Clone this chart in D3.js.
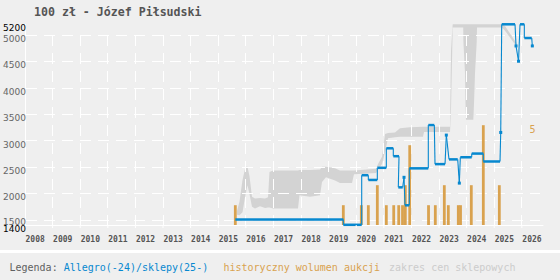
<!DOCTYPE html>
<html><head><meta charset="utf-8">
<script src="https://cdn.jsdelivr.net/npm/d3@7"></script>
<style>
html,body{margin:0;padding:0;background:#efefef;}
svg{display:block;}
</style></head>
<body>
<svg id="chart" width="560" height="280"></svg>
<script>
// ---- data ----
const years = [2008,2009,2010,2011,2012,2013,2014,2015,2016,2017,2018,2019,2020,2021,2022,2023,2024,2025,2026];
const priceTicks = [1400,1500,2000,2500,3000,3500,4000,4500,5000,5200];
const gridValues = [1500,2000,2500,3000,3500,4000,4500,5000];

// shop price range (zakres cen sklepowych)
const bandYear = [2015.699,2015.790,2015.899,2016.007,2016.080,2016.152,2016.243,2016.351,2016.533,2016.714,2016.822,2016.877,2017.004,2017.909,2017.964,2018.344,2018.707,2018.779,2018.924,2019.250,2019.431,2019.866,2019.938,2020.736,2020.808,2020.953,2021.062,2021.170,2021.424,2021.605,2021.967,2022.438,2022.475,2023.417,2023.453,2023.514,2023.895,2023.902,2023.960,2023.978,2023.996,2024.261,2024.286,2024.322,2024.384,2024.395,2025.301,2025.409,2025.826];
const bandLow  = [1590,1580,1640,1980,2150,1980,1740,1710,1750,1720,1730,1730,1710,1710,1960,1930,1960,2210,2300,2240,2190,2190,2360,2380,2450,2550,2780,3040,3060,3070,3070,3070,3160,3160,3600,5140,5140,4870,4270,3700,3390,3390,3700,4270,4870,5140,5140,5080,4780];
const bandHigh = [1660,1840,2250,2500,2500,2320,1930,1900,1910,1900,1920,2400,2430,2430,2440,2440,2450,2500,2500,2470,2430,2430,2430,2460,2550,2690,3120,3140,3150,3230,3250,3260,3260,3260,4700,5200,5200,5200,5200,5200,5200,5200,5200,5200,5200,5200,5200,5170,4840];

// historical auction volume (historyczny wolumen aukcji)
const barYear  = [2015.638,2019.551,2020.203,2020.457,2020.783,2021.109,2021.377,2021.558,2021.696,2021.797,2021.957,2022.638,2022.884,2023.210,2023.355,2023.717,2023.797,2024.188,2024.623,2025.203];
const barCount = [1,1,1,1,2,1,1,1,1,2,4,1,1,2,1,1,1,2,5,2];
const barMax = 5;

// Allegro(-24)/sklepy(25-) price periods
const allegroStart = [2015.638,2019.551,2020.217,2020.457,2020.783,2021.109,2021.362,2021.543,2021.750,2021.786,2021.942,2022.630,2022.873,2023.283,2023.380,2023.754,2023.790,2024.203,2024.623,2025.254,2025.290,2025.808,2025.899,2025.953,2026.109,2026.399];
const allegroEnd   = [2019.551,2020.217,2020.457,2020.783,2021.109,2021.362,2021.569,2021.703,2021.750,2021.942,2022.630,2022.848,2023.236,2023.283,2023.696,2023.754,2024.203,2024.623,2025.228,2025.254,2025.772,2025.808,2025.899,2026.109,2026.377,2026.399];
const allegroValue = [1500,1400,2340,2250,2480,2850,2700,2110,2300,1770,2470,3290,2550,3100,2640,2190,2680,2750,2600,3150,5200,4790,4500,5200,4940,4790];

// ---- drawing ----
const BLUE = "#0788cf", ORANGE = "#d9a24f", BAND = "#d3d3d3", GRID = "#ffffff";
const svg = d3.select("#chart");
svg.append("rect").attr("width",560).attr("height",280).attr("fill","#efefef");

const x = d3.scaleLinear().domain([2008, 2026.8]).range([24.5, 543.4]);
const y = d3.scaleLinear().domain([1400, 5200]).range([224.8, 24.3]);
const yb = d3.scaleLinear().domain([0, barMax]).range([225.2, 125.2]);

// band
const bandData = bandYear.map((d,i)=>({year:d, low:bandLow[i], high:bandHigh[i]}));
svg.append("path").datum(bandData)
  .attr("fill", BAND)
  .attr("d", d3.area().x(d=>x(d.year)).y0(d=>y(d.low)).y1(d=>y(d.high)));

// grid
const grid = svg.append("g");
grid.selectAll("line.h").data(gridValues).join("line")
  .attr("x1", 26).attr("x2", 540)
  .attr("y1", d=>Math.round(y(d))+0.5).attr("y2", d=>Math.round(y(d))+0.5)
  .attr("stroke", GRID).attr("stroke-width",1).attr("stroke-dasharray","11,7");
grid.selectAll("line.v").data(years.slice(1)).join("line")
  .attr("x1", d=>Math.round(x(d))+0.5).attr("x2", d=>Math.round(x(d))+0.5)
  .attr("y1", Math.round(y(5000))).attr("y2", 225)
  .attr("stroke", GRID).attr("stroke-width",1).attr("stroke-dasharray","11,7");

// bars
const barData = barYear.map((d,i)=>({year:d, n:barCount[i]}));
svg.append("g").selectAll("rect").data(barData).join("rect")
  .attr("x", d=>x(d.year)-1.4).attr("width", 2.8)
  .attr("y", d=>yb(d.n)).attr("height", d=>yb(0)-yb(d.n))
  .attr("fill", ORANGE);

// axes lines
svg.append("line").attr("x1",24.5).attr("x2",543.4).attr("y1",225.5).attr("y2",225.5)
  .attr("stroke",GRID).attr("stroke-width",1.2);
svg.append("line").attr("x1",25.5).attr("x2",25.5).attr("y1",24).attr("y2",225.5)
  .attr("stroke",GRID).attr("stroke-width",1);

// Allegro line
const al = allegroStart.map((d,i)=>({s:d, e:allegroEnd[i], v:allegroValue[i]}));
const conn = [];
for (let i=0;i<al.length-1;i++){
  const a = al[i], b = al[i+1];
  const xa = a.s===a.e ? x(a.s) : x(a.e);
  const xb = x(b.s);
  conn.push([[xa, y(a.v)],[xb, y(b.v)]]);
}
svg.append("g").selectAll("path").data(conn).join("path")
  .attr("d", d=>d3.line()(d)).attr("fill","none")
  .attr("stroke", BLUE).attr("stroke-width",1.1);
svg.append("g").selectAll("rect").data(al).join("rect")
  .attr("x", d=> d.s===d.e ? x(d.s)-1.5 : x(d.s))
  .attr("width", d=> Math.max(3, x(d.e)-x(d.s)))
  .attr("y", d=> d.s===d.e ? y(d.v)-1.5 : y(d.v)-1.25)
  .attr("height", d=> d.s===d.e ? 3 : 2.5)
  .attr("fill", BLUE);

// x axis labels
const xAxis = d3.axisBottom(x).tickValues(years).tickSize(3).tickPadding(2).tickFormat(d3.format("d"));
const gx = svg.append("g").attr("transform","translate(0,225)").call(xAxis);
gx.select(".domain").remove();
gx.selectAll(".tick line").attr("stroke",GRID).attr("stroke-width",1);
gx.selectAll(".tick text")
  .attr("text-anchor","start").attr("x",0.5).attr("y",16.7).attr("dy",null)
  .attr("fill","#555").style("font-family","'DejaVu Sans Mono', monospace")
  .style("font-weight","bold").style("font-size","8px");

// y axis labels
const yAxis = d3.axisLeft(y).tickValues(priceTicks).tickSize(0).tickPadding(0).tickFormat(d3.format("d"));
const gy = svg.append("g").attr("transform","translate(26,0)").call(yAxis);
gy.select(".domain").remove();
gy.selectAll(".tick text")
  .attr("dy", d=> d===1500 ? "0.58em" : "0.74em")
  .attr("fill", d=> (d===1400||d===5200) ? "#000" : "#666")
  .style("font-family","'DejaVu Sans', sans-serif").style("font-size","9px");

// bar scale label
svg.append("text").attr("x",529.5).attr("y",yb(barMax)+7.3)
  .attr("fill",ORANGE).style("font-family","'DejaVu Sans Mono', monospace").style("font-size","10px")
  .text(barMax);

// title
svg.append("text").attr("x",34).attr("y",16)
  .attr("fill","#555").style("font-family","'DejaVu Sans Mono', monospace")
  .style("font-weight","bold").style("font-size","11.6px")
  .text("100 zł - Józef Piłsudski");

// legend
svg.append("rect").attr("x",0).attr("y",250).attr("width",560).attr("height",3).attr("fill","#ffffff");
const legend = [
  {t:"Legenda:", x:9.5, c:"#606060"},
  {t:"Allegro(-24)/sklepy(25-)", x:63.7, c:BLUE},
  {t:"historyczny wolumen aukcji", x:223.5, c:ORANGE},
  {t:"zakres cen sklepowych", x:389, c:"#cccccc"}
];
svg.append("g").selectAll("text").data(legend).join("text")
  .attr("x", d=>d.x).attr("y",270.7).attr("fill", d=>d.c)
  .style("font-family","'DejaVu Sans Mono', monospace").style("font-size","10px")
  .text(d=>d.t);
</script>
</body></html>
